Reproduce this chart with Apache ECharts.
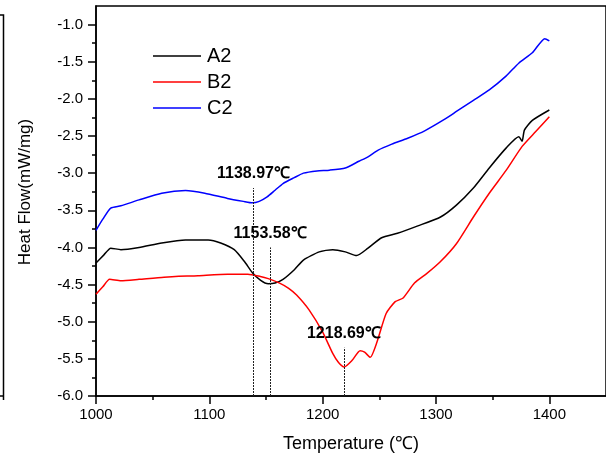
<!DOCTYPE html>
<head>
  <meta charset="utf-8">
  <script src="https://cdn.jsdelivr.net/npm/echarts@6/dist/echarts.min.js"></script>
  <style>
    html,body{margin:0;padding:0;background:#fff;}
    #chart{width:606px;height:458px;}
  </style>
</head>
<body>
  <div id="chart"></div>
  <script>
    // DSC curves: temperature (℃) and heat flow (mW/mg)
    var a2Temp = [1000,1007,1013,1022,1038,1058,1079,1099,1110,1122,1131,1138,1145,1152,1158,1165,1175,1183,1197,1209,1220,1230,1240,1252,1266,1284,1304,1318,1333,1347,1362,1373,1376,1378,1385,1400];
    var a2Flow = [-4.21,-4.10,-4.01,-4.03,-4.00,-3.94,-3.90,-3.90,-3.94,-4.03,-4.19,-4.34,-4.44,-4.49,-4.48,-4.43,-4.30,-4.17,-4.06,-4.03,-4.06,-4.11,-4.01,-3.87,-3.81,-3.71,-3.59,-3.43,-3.20,-2.93,-2.66,-2.51,-2.57,-2.42,-2.29,-2.15];

    var b2Temp = [1000,1006,1012,1022,1038,1060,1090,1116,1134,1145,1152,1162,1170,1177,1188,1200,1209,1214,1219,1226,1233,1237,1242,1248,1256,1264,1271,1281,1292,1304,1318,1333,1347,1362,1376,1388,1400];
    var b2Flow = [-4.63,-4.53,-4.43,-4.45,-4.43,-4.40,-4.38,-4.36,-4.36,-4.39,-4.42,-4.48,-4.55,-4.64,-4.84,-5.14,-5.43,-5.55,-5.61,-5.52,-5.39,-5.41,-5.48,-5.27,-4.89,-4.73,-4.68,-4.48,-4.35,-4.19,-3.95,-3.59,-3.27,-2.96,-2.64,-2.44,-2.24];

    var c2Temp = [1000,1006,1013,1022,1038,1058,1079,1096,1116,1130,1138,1144,1151,1158,1165,1175,1183,1195,1206,1220,1232,1240,1249,1261,1275,1290,1307,1318,1333,1347,1362,1373,1385,1396,1400];
    var c2Flow = [-3.77,-3.62,-3.47,-3.44,-3.36,-3.27,-3.235,-3.27,-3.34,-3.38,-3.40,-3.38,-3.32,-3.23,-3.14,-3.06,-3.00,-2.97,-2.96,-2.93,-2.84,-2.78,-2.69,-2.61,-2.53,-2.43,-2.28,-2.17,-2.02,-1.88,-1.69,-1.52,-1.38,-1.19,-1.22];

    // marked peaks: temperature, top of the dashed line
    var peakTemp = [1138.97, 1153.58, 1218.69];
    var peakTop = [-3.20, -4.00, -5.35];

    var xMajor = [1000,1100,1200,1300,1400];
    var xMinor = [1050,1150,1250,1350];
    var yMajor = [-6.0,-5.5,-5.0,-4.5,-4.0,-3.5,-3.0,-2.5,-2.0,-1.5,-1.0];
    var yMinor = [-5.75,-5.25,-4.75,-4.25,-3.75,-3.25,-2.75,-2.25,-1.75,-1.25];

    function zip(xs, ys){ return xs.map(function(x,i){ return [x, ys[i]]; }); }

    var font = "'Liberation Sans', Arial, sans-serif";
    var axisMin = -6, axisMax = -0.75;

    var peakLines = peakTemp.map(function(t,i){
      return [{coord:[t, axisMin]}, {coord:[t, peakTop[i]], value:t}];
    });

    var myChart = echarts.init(document.getElementById('chart'), null, {renderer:'canvas'});
    var option = {
      animation:false,
      backgroundColor:'#fff',
      grid:{left:96, top:6, right:-9, bottom:62, show:true, borderColor:'#000', borderWidth:1.5, backgroundColor:'transparent'},
      legend:{
        left:153, top:46, padding:0, orient:'vertical', icon:'rect', itemWidth:48, itemHeight:1.5, itemGap:6,
        textStyle:{fontFamily:font, fontSize:20, color:'#000', padding:[0,0,0,1]},
        data:['A2','B2','C2']
      },
      xAxis:[{
        type:'value', min:1000, max:1450,
        name:'Temperature (℃)', nameLocation:'middle', nameGap:39,
        nameTextStyle:{fontFamily:font, fontSize:18, color:'#000'},
        axisLine:{lineStyle:{color:'#000', width:1.5}},
        axisTick:{customValues:xMajor, length:8, lineStyle:{color:'#000', width:1.5}},
        axisLabel:{customValues:xMajor, fontFamily:font, fontSize:15, color:'#000', margin:11,
          formatter:function(v){ return String(v); }},
        splitLine:{show:false}
      },{
        type:'value', min:1000, max:1450, position:'bottom',
        axisLine:{show:false},
        axisTick:{customValues:xMinor, length:4, lineStyle:{color:'#000', width:1.5}},
        axisLabel:{show:false}, splitLine:{show:false}
      }],
      yAxis:[{
        type:'value', min:axisMin, max:axisMax,
        name:'Heat Flow(mW/mg)', nameLocation:'middle', nameGap:62,
        nameTextStyle:{fontFamily:font, fontSize:17, color:'#000', padding:[0,0,0,18]},
        axisLine:{lineStyle:{color:'#000', width:1.5}},
        axisTick:{customValues:yMajor, length:8, lineStyle:{color:'#000', width:1.5}},
        axisLabel:{customValues:yMajor, fontFamily:font, fontSize:15, color:'#000', margin:13,
          formatter:function(v){ return v.toFixed(1); }},
        splitLine:{show:false}
      },{
        type:'value', min:axisMin, max:axisMax, position:'left',
        axisLine:{show:false},
        axisTick:{customValues:yMinor, length:4, lineStyle:{color:'#000', width:1.5}},
        axisLabel:{show:false}, splitLine:{show:false}
      }],
      series:[{
        name:'A2', type:'line', data:zip(a2Temp,a2Flow), symbol:'none', smooth:0.2,
        lineStyle:{color:'#000', width:1.5}, itemStyle:{color:'#000'},
        markLine:{
          silent:true, symbol:['none','none'],
          lineStyle:{color:'#222', width:1, type:[2,1]},
          label:{position:'end', distance:6, fontFamily:font,
            fontWeight:'bold', fontSize:16, color:'#000',
            formatter:function(p){ return p.value + '℃'; }},
          data:peakLines
        }
      },{
        name:'B2', type:'line', data:zip(b2Temp,b2Flow), symbol:'none', smooth:0.2,
        lineStyle:{color:'#ff0000', width:1.5}, itemStyle:{color:'#ff0000'}
      },{
        name:'C2', type:'line', data:zip(c2Temp,c2Flow), symbol:'none', smooth:0.2,
        lineStyle:{color:'#0000ff', width:1.5}, itemStyle:{color:'#0000ff'}
      }],
      graphic:[
        {type:'polyline', shape:{points:[[0,15],[3.5,15],[3.5,400]]}, style:{stroke:'#000', lineWidth:1.5, fill:null}},
        {type:'line', shape:{x1:0, y1:396, x2:3.5, y2:396}, style:{stroke:'#000', lineWidth:1.5}}
      ]
    };
    myChart.setOption(option);
  </script>
</body>
